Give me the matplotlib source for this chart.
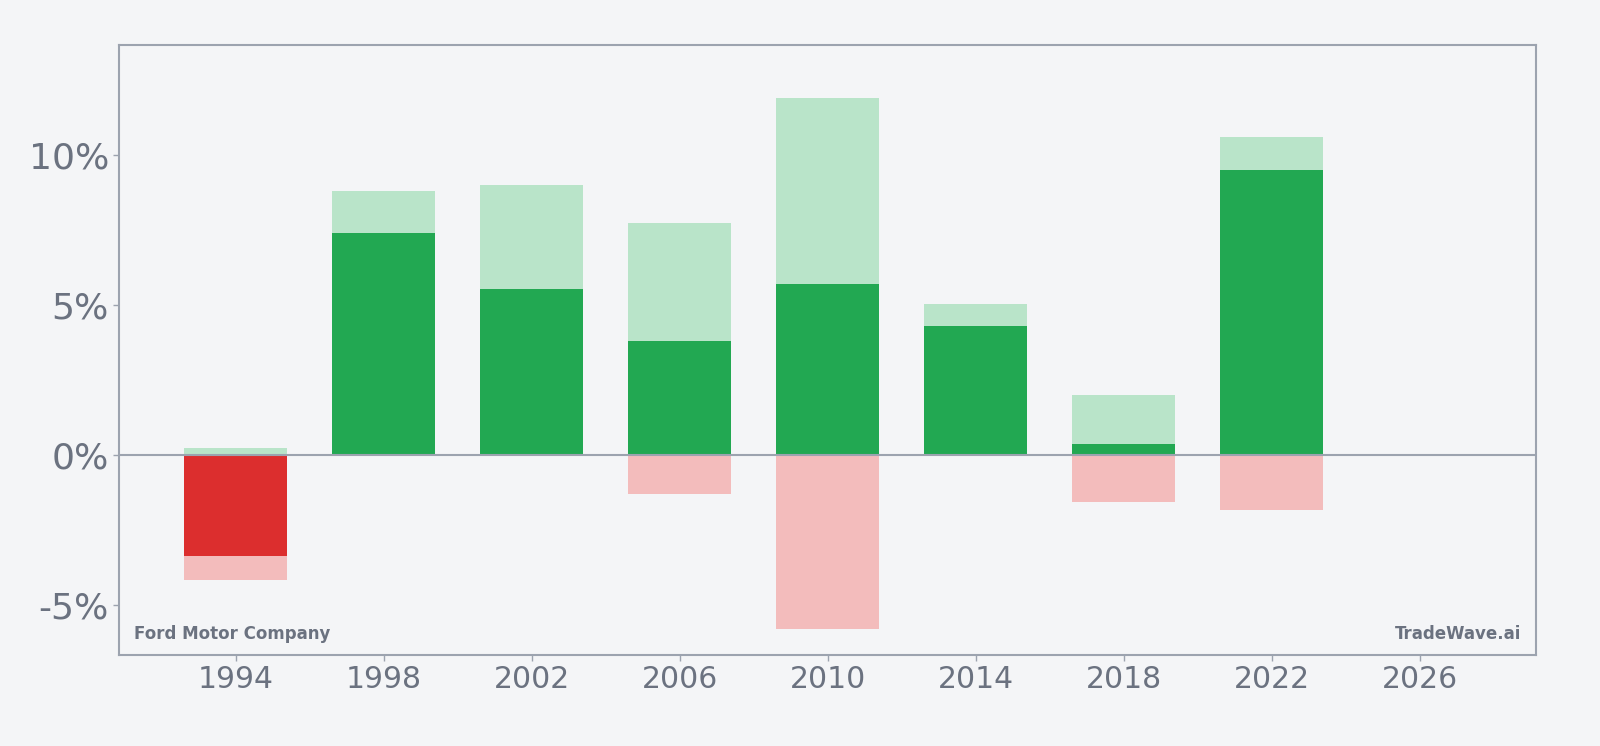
import matplotlib
matplotlib.use("Agg")
import matplotlib.pyplot as plt
from matplotlib.ticker import FuncFormatter

# 4-year periods
years = [1994, 1998, 2002, 2006, 2010, 2014, 2018, 2022]
# upper (light green), net (dark), lower (light red), in %
upper = [0.24, 8.81, 9.01, 7.72, 11.90, 5.03, 2.00, 10.61]
net = [-3.37, 7.41, 5.54, 3.81, 5.68, 4.29, 0.37, 9.49]
lower = [-4.18, 0.0, 0.0, -1.29, -5.82, 0.0, -1.56, -1.84]

x_ticks = [1994, 1998, 2002, 2006, 2010, 2014, 2018, 2022, 2026]
y_ticks = [-5, 0, 5, 10]

bg = "#f4f5f7"
txt = "#6b7280"
edge = "#9ca3af"

fig = plt.figure(figsize=(16, 7.46), dpi=100, facecolor=bg)
ax = fig.add_axes([0.0746, 0.122, 0.8852, 0.818])
ax.set_facecolor(bg)

w = 2.8
ax.bar(years, upper, width=w, color="#b9e4c9", zorder=2)
ax.bar(years, lower, width=w, color="#f3bcbc", zorder=2)
net_colors = ["#22a852" if v >= 0 else "#dc2e2e" for v in net]
ax.bar(years, net, width=w, color=net_colors, zorder=3)
ax.axhline(0, color=edge, lw=1.5, zorder=4)

ax.set_xlim(1990.86, 2029.14)
ax.set_ylim(-6.67, 13.67)
ax.set_xticks(x_ticks)
ax.set_yticks(y_ticks)
ax.yaxis.set_major_formatter(FuncFormatter(lambda v, p: f"{v:.0f}%"))
ax.tick_params(colors=edge, labelcolor=txt, length=4, width=1)
ax.tick_params(axis="x", labelsize=21.5)
ax.tick_params(axis="y", labelsize=26)

for s in ax.spines.values():
    s.set_color(edge)
    s.set_linewidth(1.5)

ax.text(0.01, 0.019, "Ford Motor Company", transform=ax.transAxes,
        fontsize=12, fontweight="bold", color=txt, ha="left", va="bottom")
ax.text(0.99, 0.019, "TradeWave.ai", transform=ax.transAxes,
        fontsize=12, fontweight="bold", color=txt, ha="right", va="bottom")

fig.savefig("out.png", facecolor=bg)
